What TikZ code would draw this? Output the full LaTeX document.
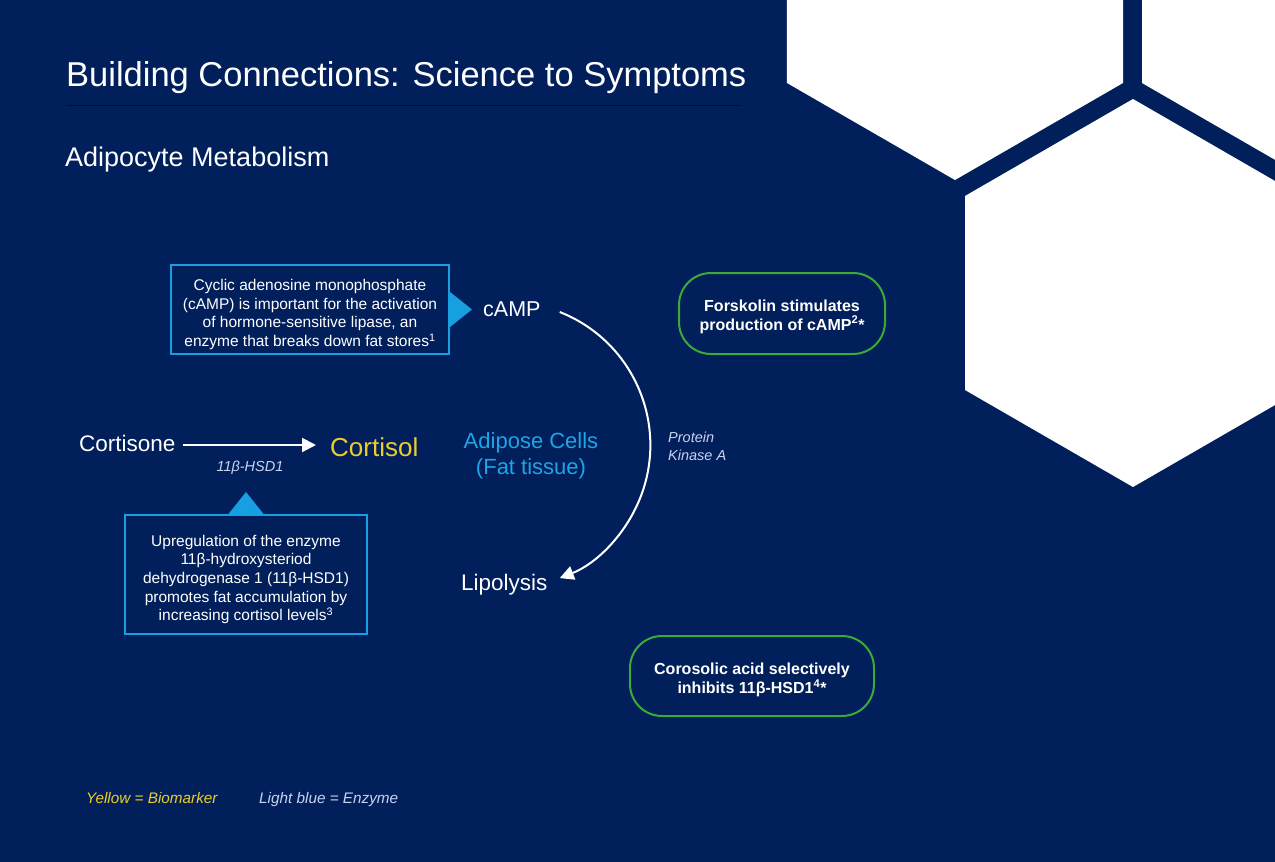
\documentclass[tikz,border=0pt]{standalone}
\usepackage{fontspec}
\setmainfont{Liberation Sans}
\usetikzlibrary{arrows.meta,positioning}

\definecolor{navy}{RGB}{1,32,91}
\definecolor{skyblue}{RGB}{22,160,226}
\definecolor{adipose}{RGB}{30,165,230}
\definecolor{gold}{RGB}{236,205,45}
\definecolor{leafgreen}{RGB}{60,170,55}
\definecolor{periwinkle}{RGB}{200,210,240}
\definecolor{rulecol}{RGB}{8,14,38}

\begin{document}
\begin{tikzpicture}[x=1pt,y=-1pt,
  txt/.style={inner sep=0pt,text=white},
  infobox/.style={draw=skyblue,line width=2pt,fill=navy,inner sep=0pt},
  infotext/.style={text=white,align=center,inner sep=0pt,font=\fontsize{15.5}{18.7}\selectfont},
  herbbox/.style={draw=leafgreen,line width=2pt,rounded corners=32pt,inner sep=0pt},
  herbtext/.style={text=white,align=center,inner sep=0pt,font=\bfseries\fontsize{16}{19}\selectfont},
  flow/.style={white,line width=2pt,-{Triangle[length=14pt,width=14pt]}},
  note/.style={inner sep=0pt,text=periwinkle,font=\itshape\fontsize{14.5}{18}\selectfont}]

% Background
\fill[navy] (0,0) rectangle (1275,862);
\useasboundingbox (0,0) rectangle (1275,862);
\clip (0,0) rectangle (1275,862);

% Hexagons
\foreach \cx/\cy in {955/-14, 1310/-14, 1133/293}
  \fill[white] (\cx,\cy) +(30:194) -- +(90:194) -- +(150:194) -- +(210:194) -- +(270:194) -- +(330:194) -- cycle;

% Title
\node[txt,anchor=base west,font=\fontsize{34.5}{40}\selectfont] (title) at (66,86) {Building Connections: Science to Symptoms};
\draw[rulecol,line width=1pt] (66,105) -- (741,105);
\node[txt,anchor=base west,font=\fontsize{27}{32}\selectfont] (subtitle) at (65,166) {Adipocyte Metabolism};

% cAMP box
\node[infobox,minimum width=278pt,minimum height=89pt] (campbox) at (310,309.5) {};
\node[infotext] (camptext) at ([yshift=-5pt]campbox.center) {Cyclic adenosine monophosphate\\(cAMP) is important for the activation\\of hormone-sensitive lipase, an\\enzyme that breaks down fat stores\textsuperscript{1}};
\fill[skyblue] (campbox.east) ++(0,-17.5) -- ++(22,17.5) -- ++(-22,17.5) -- cycle;
\node[txt,anchor=west,font=\fontsize{21.5}{26}\selectfont] (camp) at (483,309) {cAMP};

% Cortisone to cortisol
\node[txt,anchor=west,font=\fontsize{22.5}{27}\selectfont] (cortisone) at (79,443) {Cortisone};
\node[txt,anchor=west,text=gold,font=\fontsize{26}{31}\selectfont] (cortisol) at (330,447) {Cortisol};
\draw[flow] ([xshift=7pt,yshift=-2pt]cortisone.east) -- ([xshift=-14pt,yshift=2pt]cortisol.west);
\node[note,anchor=base] (hsd) at (250,471) {11β-HSD1};

% 11b-HSD1 box
\node[infobox,minimum width=242pt,minimum height=119pt] (hsdbox) at (246,574.5) {};
\node[infotext] (hsdtext) at ([yshift=-5pt]hsdbox.center) {Upregulation of the enzyme\\11β-hydroxysteriod\\dehydrogenase 1 (11β-HSD1)\\promotes fat accumulation by\\increasing cortisol levels\textsuperscript{3}};
\fill[skyblue] (hsdbox.north) ++(-17.5,0) -- ++(17.5,-22) -- ++(17.5,22) -- cycle;

% Adipose cells
\node[txt,text=adipose,align=center,font=\fontsize{22}{26}\selectfont] (fat) at (531,456) {Adipose Cells\\(Fat tissue)};

% Lipolysis cycle
\node[txt,anchor=west,font=\fontsize{22.5}{27}\selectfont] (lipo) at (461,585) {Lipolysis};
\draw[flow] (camp.east) ++(19,3) arc[start angle=-68.5,end angle=68.5,radius=143];
\node[note,anchor=west,align=left] (pka) at (668,446) {Protein\\Kinase A};

% Supplements
\node[herbbox,minimum width=206pt,minimum height=81pt] (forskolin) at (782,313.5) {};
\node[herbtext] (forskolintext) at ([yshift=-3pt]forskolin.center) {Forskolin stimulates\\production of cAMP\textsuperscript{2}*};
\node[herbbox,minimum width=244pt,minimum height=80pt] (corosolic) at (752,676) {};
\node[herbtext] (corosolictext) at ([yshift=-4pt]corosolic.center) {Corosolic acid selectively\\inhibits 11β-HSD1\textsuperscript{4}*};

% Legend
\node[note,anchor=base west,text=gold,font=\itshape\fontsize{15.3}{18}\selectfont] (keyyellow) at (86,803) {Yellow = Biomarker};
\node[note,anchor=base west,font=\itshape\fontsize{15.3}{18}\selectfont] (keyblue) at (259,803) {Light blue = Enzyme};

\end{tikzpicture}
\end{document}
